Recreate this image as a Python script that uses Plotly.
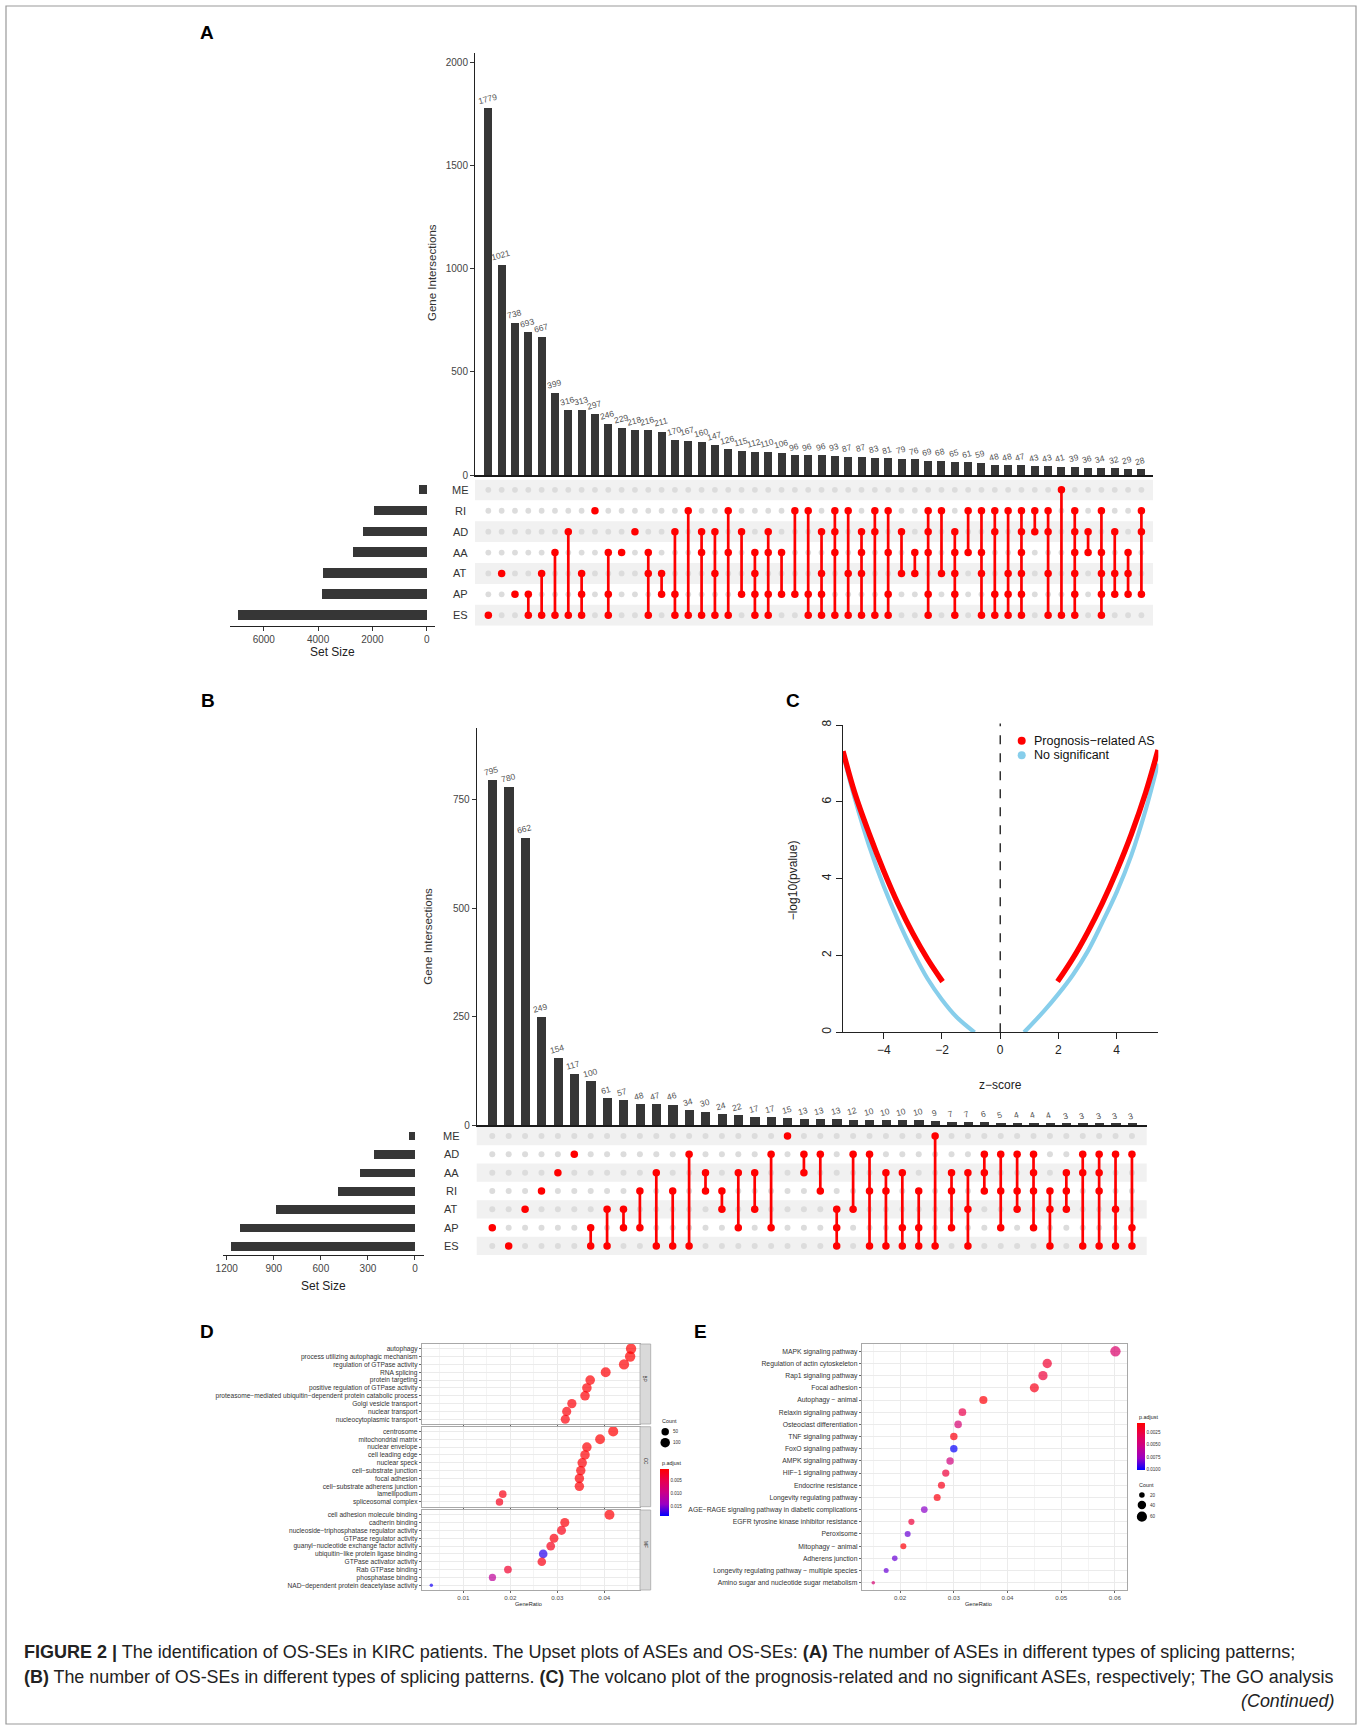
import plotly.graph_objects as go

W, H = 1362, 1727
def PX(x): return x / W
def PY(y): return 1 - y / H
def dom_x(a, b): return [PX(a), PX(b)]
def dom_y(top, bottom): return [PY(bottom), PY(top)]

FONT = "Liberation Sans, Arial, sans-serif"

# ---------------- Panel A data (ASEs upset) ----------------
a_counts = [1779, 1021, 738, 693, 667, 399, 316, 313, 297, 246, 229, 218, 216, 211, 170, 167, 160, 147, 126, 115,
            112, 110, 106, 96, 96, 96, 93, 87, 87, 83, 81, 79, 76, 69, 68, 65, 61, 59, 48, 48,
            47, 43, 43, 41, 39, 36, 34, 32, 29, 28]
a_members = [
    ["ES"], ["AT"], ["AP"], ["AP", "ES"], ["AT", "ES"], ["AA", "ES"], ["AD", "ES"], ["AT", "AP", "ES"], ["RI"], ["AA", "AP", "ES"],
    ["AA"], ["AD"], ["AA", "AT", "ES"], ["AT", "AP"], ["AD", "AP", "ES"], ["RI", "ES"], ["AD", "AA", "ES"], ["AD", "AT", "ES"], ["RI", "AA", "ES"], ["AD", "AP"],
    ["AA", "AT", "AP", "ES"], ["AD", "AA", "AP", "ES"], ["AA", "AP"], ["RI", "AP"], ["RI", "AP", "ES"], ["AD", "AT", "AP", "ES"], ["RI", "AD", "AA", "ES"], ["RI", "AT", "ES"], ["AD", "AA", "AT", "ES"], ["RI", "AD", "ES"],
    ["RI", "AA", "AP", "ES"], ["AD", "AT"], ["AA", "AT"], ["RI", "AD", "AA", "AP", "ES"], ["RI", "AT"], ["AD", "AA", "AT", "AP", "ES"], ["RI", "AA"], ["RI", "AA", "AT", "ES"], ["RI", "AD", "AP", "ES"], ["RI", "AT", "AP", "ES"],
    ["RI", "AD", "AA", "AT", "AP", "ES"], ["RI", "AD"], ["RI", "AD", "AT", "ES"], ["ME", "ES"], ["RI", "AD", "AA", "AT", "AP", "ES"], ["AD", "AA"], ["RI", "AA", "AT", "AP", "ES"], ["AD", "AT", "AP"], ["AA", "AT", "AP"], ["RI", "AD", "AP"],
]
a_rows = ["ME", "RI", "AD", "AA", "AT", "AP", "ES"]
a_set_sizes = [270, 1940, 2330, 2725, 3805, 3840, 6935]
a_size_ticks = [0, 2000, 4000, 6000]
a_bar_ticks = [0, 500, 1000, 1500, 2000]

# ---------------- Panel B data (OS-SEs upset) ----------------
b_counts = [795, 780, 662, 249, 154, 117, 100, 61, 57, 48, 47, 46, 34, 30, 24, 22, 17, 17, 15, 13,
            13, 13, 12, 10, 10, 10, 10, 9, 7, 7, 6, 5, 4, 4, 4, 3, 3, 3, 3, 3]
b_members = [
    ["AP"], ["ES"], ["AT"], ["RI"], ["AA"], ["AD"], ["AP", "ES"], ["AT", "ES"], ["AT", "AP"], ["RI", "AP"],
    ["AA", "ES"], ["RI", "ES"], ["AD", "ES"], ["AA", "RI"], ["RI", "AT"], ["AA", "AP"], ["AA", "AT"], ["AD", "AP"], ["ME"], ["AD", "AA"],
    ["AD", "RI"], ["AT", "AP", "ES"], ["AD", "AT"], ["AD", "RI", "ES"], ["AA", "RI", "ES"], ["AA", "AP", "ES"], ["RI", "AP", "ES"], ["ME", "ES"], ["AA", "RI", "AP"], ["AA", "AT", "ES"],
    ["AD", "AA", "RI"], ["AD", "RI", "AP"], ["AD", "RI", "AT"], ["AD", "AA", "RI", "AP"], ["RI", "AT", "ES"], ["AA", "RI", "AT"], ["AD", "AA", "ES"], ["AD", "AA", "RI", "ES"], ["AD", "AT", "ES"], ["AD", "AP", "ES"],
]
b_rows = ["ME", "AD", "AA", "RI", "AT", "AP", "ES"]
b_set_sizes = [36, 259, 346, 490, 886, 1113, 1172]
b_size_ticks = [0, 300, 600, 900, 1200]
b_bar_ticks = [0, 250, 500, 750]

# ---------------- Panel C data (volcano) ----------------
c_blue_left_z = [-5.40, -5.0, -4.5, -4.0, -3.5, -3.0, -2.5, -2.0, -1.5, -0.88]
c_blue_left_y = [7.25, 6.10, 4.85, 3.80, 2.90, 2.10, 1.40, 0.85, 0.40, 0.0]
c_blue_right_z = [0.82, 1.5, 2.0, 2.5, 3.0, 3.5, 4.0, 4.5, 5.0, 5.42]
c_blue_right_y = [0.0, 0.55, 1.0, 1.5, 2.1, 2.85, 3.65, 4.6, 5.8, 7.0]
c_red_left_z = [-5.40, -5.0, -4.5, -4.0, -3.5, -3.0, -2.5, -1.98]
c_red_left_y = [7.32, 6.24, 5.17, 4.20, 3.33, 2.57, 1.91, 1.32]
c_red_right_z = [1.97, 2.5, 3.0, 3.5, 4.0, 4.5, 5.0, 5.42]
c_red_right_y = [1.32, 1.93, 2.60, 3.35, 4.20, 5.15, 6.25, 7.35]
c_xticks = [-4, -2, 0, 2, 4]
c_xticktext = ["\u22124", "\u22122", "0", "2", "4"]
c_yticks = [0, 2, 4, 6, 8]
c_legend = ["Prognosis\u2212related AS", "No significant"]

# ---------------- Panel D data (GO dotplot) ----------------
d_bp_terms = ["autophagy", "process utilizing autophagic mechanism", "regulation of GTPase activity", "RNA splicing",
              "protein targeting", "positive regulation of GTPase activity",
              "proteasome\u2212mediated ubiquitin\u2212dependent protein catabolic process",
              "Golgi vesicle transport", "nuclear transport", "nucleocytoplasmic transport"]
d_bp_ratio = [0.0457, 0.0455, 0.0442, 0.0403, 0.0370, 0.0363, 0.0359, 0.0331, 0.0320, 0.0317]
d_bp_count = [130, 130, 126, 115, 105, 103, 102, 94, 91, 90]
d_bp_padj = [0.0010, 0.0010, 0.0011, 0.0012, 0.0012, 0.0013, 0.0013, 0.0015, 0.0015, 0.0016]

d_cc_terms = ["centrosome", "mitochondrial matrix", "nuclear envelope", "cell leading edge", "nuclear speck",
              "cell\u2212substrate junction", "focal adhesion", "cell\u2212substrate adherens junction",
              "lamellipodium", "spliceosomal complex"]
d_cc_ratio = [0.0419, 0.0391, 0.0363, 0.0359, 0.0353, 0.0350, 0.0347, 0.0347, 0.0184, 0.0177]
d_cc_count = [119, 111, 103, 102, 100, 99, 99, 99, 52, 50]
d_cc_padj = [0.0010, 0.0011, 0.0012, 0.0012, 0.0013, 0.0013, 0.0013, 0.0013, 0.0020, 0.0025]

d_mf_terms = ["cell adhesion molecule binding", "cadherin binding", "nucleoside\u2212triphosphatase regulator activity",
              "GTPase regulator activity", "guanyl\u2212nucleotide exchange factor activity",
              "ubiquitin\u2212like protein ligase binding", "GTPase activator activity", "Rab GTPase binding",
              "phosphatase binding", "NAD\u2212dependent protein deacetylase activity"]
d_mf_ratio = [0.0411, 0.0316, 0.0309, 0.0293, 0.0286, 0.0270, 0.0267, 0.0195, 0.0162, 0.0032]
d_mf_count = [117, 90, 88, 83, 81, 77, 76, 56, 46, 9]
d_mf_padj = [0.0012, 0.0015, 0.0022, 0.0018, 0.0025, 0.0175, 0.0020, 0.0035, 0.0110, 0.0180]
d_facets = ["BP", "CC", "MF"]
d_xticks = [0.01, 0.02, 0.03, 0.04]
d_count_legend = [50, 100]
d_padj_ticks = [0.005, 0.010, 0.015]

# ---------------- Panel E data (KEGG dotplot) ----------------
e_terms = ["MAPK signaling pathway", "Regulation of actin cytoskeleton", "Rap1 signaling pathway", "Focal adhesion",
           "Autophagy \u2212 animal", "Relaxin signaling pathway", "Osteoclast differentiation", "TNF signaling pathway",
           "FoxO signaling pathway", "AMPK signaling pathway", "HIF\u22121 signaling pathway", "Endocrine resistance",
           "Longevity regulating pathway", "AGE\u2212RAGE signaling pathway in diabetic complications",
           "EGFR tyrosine kinase inhibitor resistance", "Peroxisome", "Mitophagy \u2212 animal", "Adherens junction",
           "Longevity regulating pathway \u2212 multiple species", "Amino sugar and nucleotide sugar metabolism"]
e_ratio = [0.0601, 0.0474, 0.0466, 0.0450, 0.0355, 0.0316, 0.0308, 0.0300, 0.0300, 0.0293,
           0.0285, 0.0277, 0.0269, 0.0245, 0.0221, 0.0214, 0.0206, 0.0190, 0.0174, 0.0150]
e_count = [63, 50, 49, 47, 37, 33, 32, 31, 31, 31, 30, 29, 28, 26, 23, 22, 22, 20, 18, 16]
e_padj = [0.0042, 0.0022, 0.0025, 0.0015, 0.0010, 0.0030, 0.0045, 0.0012, 0.0100, 0.0050,
          0.0025, 0.0015, 0.0012, 0.0080, 0.0025, 0.0085, 0.0010, 0.0085, 0.0085, 0.0045]
e_xticks = [0.02, 0.03, 0.04, 0.05, 0.06]
e_count_legend = [20, 40, 60]
e_padj_ticks = [0.0025, 0.0050, 0.0075, 0.0100]

# ---------------- styling ----------------
RED = "#FF0000"
BAR = "#363636"
GRAYDOT = "#DCDCDC"
STRIPE = "#F1F1F1"
TXT = "#444444"
PADJ_SCALE = [[0, "rgb(0,0,255)"], [0.25, "rgb(154,0,195)"], [0.5, "rgb(202,0,137)"],
              [0.75, "rgb(232,0,79)"], [1, "rgb(255,0,0)"]]

traces = []
annotations = []
shapes = []


def upset(counts, members, rows, sizes, ax_bar, ax_m, ax_s, bar_w, hbar_w, label_x, red_d, gray_d):
    n = len(rows)
    ridx = {r: n - 1 - i for i, r in enumerate(rows)}
    cols = list(range(len(counts)))
    xb, yb = "x" + ax_bar, "y" + ax_bar
    xm, ym = "x" + ax_m, "y" + ax_m
    xs, ys_ = "x" + ax_s, "y" + ax_s
    traces.append(go.Bar(x=cols, y=counts, width=bar_w, marker=dict(color=BAR, line=dict(width=0)),
                         xaxis=xb, yaxis=yb, hoverinfo="x+y"))
    for c, v in zip(cols, counts):
        annotations.append(dict(x=c, y=v, xref=xb, yref=yb, text=str(v), showarrow=False, textangle=-15,
                                xanchor="center", yanchor="bottom", yshift=0, xshift=-1,
                                font=dict(size=8.5, color="#555555", family=FONT)))
    # stripes
    for r in rows:
        if (n - 1 - ridx[r]) % 2 == 0:
            shapes.append(dict(type="rect", xref=xm + " domain", yref=ym, x0=0, x1=1,
                               y0=ridx[r] - 0.5, y1=ridx[r] + 0.5, fillcolor=STRIPE, line=dict(width=0),
                               layer="below"))
    gx, gy, rx, ry, lx, ly = [], [], [], [], [], []
    for c in cols:
        mem = [ridx[r] for r in members[c]]
        for r in rows:
            if r in members[c]:
                rx.append(c); ry.append(ridx[r])
            else:
                gx.append(c); gy.append(ridx[r])
        if len(mem) > 1:
            lx += [c, c, None]; ly += [min(mem), max(mem), None]
    traces.append(go.Scatter(x=gx, y=gy, mode="markers", marker=dict(size=gray_d, color=GRAYDOT),
                             xaxis=xm, yaxis=ym, hoverinfo="skip"))
    traces.append(go.Scatter(x=lx, y=ly, mode="lines", line=dict(color=RED, width=2.7),
                             xaxis=xm, yaxis=ym, hoverinfo="skip"))
    traces.append(go.Scatter(x=rx, y=ry, mode="markers", marker=dict(size=red_d, color=RED),
                             xaxis=xm, yaxis=ym, hoverinfo="skip"))
    traces.append(go.Bar(x=sizes, y=[ridx[r] for r in rows], orientation="h", width=hbar_w,
                         marker=dict(color=BAR, line=dict(width=0)), xaxis=xs, yaxis=ys_))
    for r in rows:
        annotations.append(dict(x=PX(label_x), y=ridx[r], xref="paper", yref=ym, text=r, showarrow=False,
                                xanchor="center", yanchor="middle", font=dict(size=11, color="#333333", family=FONT)))


upset(a_counts, a_members, a_rows, a_set_sizes, "", "2", "3", 0.6, 0.45, 460, 7.5, 5.8)
upset(b_counts, b_members, b_rows, b_set_sizes, "4", "5", "6", 0.57, 0.47, 451, 7.5, 6.0)

# ---------------- Panel C traces ----------------
for zz, yy, col, wd in [(c_blue_left_z, c_blue_left_y, "#87CEEB", 4.2), (c_blue_right_z, c_blue_right_y, "#87CEEB", 4.2),
                        (c_red_left_z, c_red_left_y, RED, 5.4), (c_red_right_z, c_red_right_y, RED, 5.4)]:
    traces.append(go.Scatter(x=zz, y=yy, mode="lines", line=dict(color=col, width=wd, shape="spline", smoothing=1.0),
                             xaxis="x7", yaxis="y7"))
shapes.append(dict(type="line", xref="x7", yref="y7 domain", x0=0, x1=0, y0=0, y1=1.005,
                   line=dict(color="black", width=1.2, dash="dash")))
for i, (lab, col) in enumerate(zip(c_legend, [RED, "#87CEEB"])):
    yc = 740.7 + 14.6 * i
    shapes.append(dict(type="circle", xref="paper", yref="paper", xsizemode="pixel", ysizemode="pixel",
                       xanchor=PX(1021.7), yanchor=PY(yc), x0=-4, x1=4, y0=-4, y1=4,
                       fillcolor=col, line=dict(width=0)))
    annotations.append(dict(x=PX(1032), y=PY(yc), xref="paper", yref="paper", text=lab, showarrow=False,
                            xanchor="left", yanchor="middle", font=dict(size=12.5, color="#111111", family=FONT)))


# ---------------- Panel D / E traces ----------------
def dot_size(counts, dmin, dmax, cmin, cmax):
    return [dmin + (dmax - dmin) * max(0.0, (c - cmin) / (cmax - cmin)) ** 0.5 for c in counts]

d_all_counts = d_bp_count + d_cc_count + d_mf_count
d_cmin, d_cmax = min(d_all_counts), max(d_all_counts)
for k, (terms, ratio, cnt, padj) in enumerate([(d_bp_terms, d_bp_ratio, d_bp_count, d_bp_padj),
                                                 (d_cc_terms, d_cc_ratio, d_cc_count, d_cc_padj),
                                                 (d_mf_terms, d_mf_ratio, d_mf_count, d_mf_padj)]):
    ax = str(8 + k)
    traces.append(go.Scatter(x=ratio, y=terms, mode="markers",
                             marker=dict(size=dot_size(cnt, 3.4, 10.4, d_cmin, d_cmax),
                                         color=[-p for p in padj], coloraxis="coloraxis", line=dict(width=0)),
                             xaxis="x" + ax, yaxis="y" + ax))

e_cmin, e_cmax = min(e_count), max(e_count)
traces.append(go.Scatter(x=e_ratio, y=e_terms, mode="markers",
                         marker=dict(size=dot_size(e_count, 3.6, 10.4, e_cmin, e_cmax),
                                     color=[-p for p in e_padj], coloraxis="coloraxis2", line=dict(width=0)),
                         xaxis="x11", yaxis="y11"))

# ---------------- axes ----------------
layout = dict(width=W, height=H, margin=dict(l=0, r=0, t=0, b=0), template="none",
              paper_bgcolor="white", plot_bgcolor="rgba(0,0,0,0)", showlegend=False,
              font=dict(family=FONT, color=TXT))

hidden = dict(visible=False, showgrid=False, zeroline=False, fixedrange=True)


def bar_y(domain, rng, ticks, anchor):
    return dict(domain=domain, range=rng, anchor=anchor, showline=True, linecolor="#222222", linewidth=1,
                ticks="outside", ticklen=4, tickcolor="#333333", tickvals=ticks, showgrid=False, zeroline=False,
                tickfont=dict(size=10, color=TXT, family=FONT))


def bar_x(domain, rng, anchor):
    return dict(domain=domain, range=rng, anchor=anchor, showline=True, linecolor="#1a1a1a", linewidth=1.5,
                showticklabels=False, ticks="", showgrid=False, zeroline=False)


def size_x(domain, rng, ticks, anchor):
    return dict(domain=domain, range=rng, anchor=anchor, showline=True, linecolor="#222222", linewidth=1.2,
                ticks="outside", ticklen=4, tickcolor="#333333", tickvals=ticks, showgrid=False, zeroline=False,
                tickfont=dict(size=10, color=TXT, family=FONT))


# A
layout["xaxis"] = bar_x(dom_x(475, 1153), [-1.0, 49.87], "y")
layout["yaxis"] = bar_y(dom_y(53, 475), [0, 2047], a_bar_ticks, "x")
layout["xaxis2"] = dict(hidden, domain=dom_x(475, 1153), range=[-1.0, 49.87], anchor="y2")
layout["yaxis2"] = dict(hidden, domain=dom_y(479.4, 625.7), range=[-0.5, 6.5], anchor="x2")
layout["xaxis3"] = size_x(dom_x(230, 435), [7245, -306], a_size_ticks, "y3")
layout["yaxis3"] = dict(hidden, domain=dom_y(479.4, 625.7), range=[-0.5, 6.5], anchor="x3")
# B
layout["xaxis4"] = bar_x(dom_x(476.7, 1146.7), [-0.95, 39.9], "y4")
layout["yaxis4"] = bar_y(dom_y(728.3, 1125), [0, 915], b_bar_ticks, "x4")
layout["xaxis5"] = dict(hidden, domain=dom_x(476.7, 1146.7), range=[-0.95, 39.9], anchor="y5")
layout["yaxis5"] = dict(hidden, domain=dom_y(1126.8, 1255.2), range=[-0.5, 6.5], anchor="x5")
layout["xaxis6"] = size_x(dom_x(223.3, 424), [1221.7, -57.4], b_size_ticks, "y6")
layout["yaxis6"] = dict(hidden, domain=dom_y(1126.8, 1255.2), range=[-0.5, 6.5], anchor="x6")
# C
layout["xaxis7"] = dict(domain=dom_x(842.7, 1158.3), range=[-5.41, 5.43], anchor="y7", showline=True,
                        linecolor="#222222", linewidth=1, ticks="outside", ticklen=6, tickcolor="#222222",
                        tickvals=c_xticks, ticktext=c_xticktext, showgrid=False, zeroline=False,
                        tickfont=dict(size=12, color="#222222", family=FONT))
layout["yaxis7"] = dict(domain=dom_y(725, 1032.3), range=[0, 8], anchor="x7", showline=True,
                        linecolor="#222222", linewidth=1, ticks="outside", ticklen=6, tickcolor="#222222",
                        tickvals=c_yticks, tickangle=-90, showgrid=False, zeroline=False,
                        tickfont=dict(size=12, color="#222222", family=FONT))


def dot_axes(xkey, ykey, xdom, ydom, xrng, terms, xticks, show_xlabels, yfs):
    n = len(terms)
    layout[xkey] = dict(domain=xdom, range=xrng, anchor="y" + xkey[5:], showline=True, mirror=True,
                        linecolor="#A8A8A8", linewidth=0.8, ticks="outside", ticklen=2, tickcolor="#666666",
                        tickvals=xticks, tickformat=".2f", showticklabels=show_xlabels,
                        showgrid=True, gridcolor="#EBEBEB", gridwidth=0.8, zeroline=False,
                        minor=dict(dtick=0.005, tick0=0, showgrid=True, gridcolor="#F4F4F4", gridwidth=0.5, ticks=""),
                        tickfont=dict(size=6.2, color="#4D4D4D", family=FONT))
    layout[ykey] = dict(domain=ydom, range=[n - 1 + 0.6, -0.6], anchor="x" + ykey[5:], type="category",
                        categoryorder="array", categoryarray=terms, tickmode="array", tickvals=terms,
                        ticktext=terms, showline=True, mirror=True,
                        linecolor="#A8A8A8", linewidth=0.8, ticks="outside", ticklen=2, tickcolor="#666666",
                        showgrid=True, gridcolor="#EBEBEB", gridwidth=0.8, zeroline=False,
                        tickfont=dict(size=yfs, color="#333333", family=FONT))


d_xrng = [0.00115, 0.0476]
dot_axes("xaxis8", "yaxis8", dom_x(421.7, 640), dom_y(1344, 1424), d_xrng, d_bp_terms, d_xticks, False, 6.6)
dot_axes("xaxis9", "yaxis9", dom_x(421.7, 640), dom_y(1426.7, 1506.7), d_xrng, d_cc_terms, d_xticks, False, 6.6)
dot_axes("xaxis10", "yaxis10", dom_x(421.7, 640), dom_y(1510, 1590), d_xrng, d_mf_terms, d_xticks, True, 6.6)
dot_axes("xaxis11", "yaxis11", dom_x(861.7, 1126.7), dom_y(1344, 1590), [0.01284, 0.0622], e_terms, e_xticks, True, 6.8)

layout["coloraxis"] = dict(colorscale=PADJ_SCALE, cmin=-0.0186, cmax=-0.001,
                           colorbar=dict(x=PX(660), xanchor="left", y=PY(1469.3), yanchor="top",
                                         len=47.4, lenmode="pixels", thickness=9.3, xpad=0, ypad=0,
                                         outlinewidth=0, ticks="", tickvals=[-v for v in d_padj_ticks],
                                         ticktext=["%.3f" % v for v in d_padj_ticks],
                                         tickfont=dict(size=4.6, color="#333333", family=FONT)))
layout["coloraxis2"] = dict(colorscale=PADJ_SCALE, cmin=-0.0101, cmax=-0.0008,
                            colorbar=dict(x=PX(1136.7), xanchor="left", y=PY(1423.3), yanchor="top",
                                          len=46.7, lenmode="pixels", thickness=8.3, xpad=0, ypad=0,
                                          outlinewidth=0, ticks="", tickvals=[-v for v in e_padj_ticks],
                                          ticktext=["%.4f" % v for v in e_padj_ticks],
                                          tickfont=dict(size=4.6, color="#333333", family=FONT)))

# facet strips for D
for lab, (t, b) in zip(d_facets, [(1344, 1424), (1426.7, 1506.7), (1510, 1590)]):
    shapes.append(dict(type="rect", xref="paper", yref="paper", x0=PX(640), x1=PX(650.7), y0=PY(b), y1=PY(t),
                       fillcolor="#D9D9D9", line=dict(color="#A8A8A8", width=0.8)))
    annotations.append(dict(x=PX(645.4), y=PY((t + b) / 2), xref="paper", yref="paper", text=lab, textangle=90,
                            showarrow=False, font=dict(size=4.6, color="#1A1A1A", family=FONT)))

# count legends (size keys)
def count_legend(title, x0, ytitle, vals, ys, dmin, dmax, cmin, cmax, xlab):
    annotations.append(dict(x=PX(x0), y=PY(ytitle), xref="paper", yref="paper", text=title, showarrow=False,
                            xanchor="left", yanchor="middle", font=dict(size=5.4, color="#222222", family=FONT)))
    for v, yy, d in zip(vals, ys, dot_size(vals, dmin, dmax, cmin, cmax)):
        shapes.append(dict(type="circle", xref="paper", yref="paper", xsizemode="pixel", ysizemode="pixel",
                           xanchor=PX(x0 + 5.2), yanchor=PY(yy), x0=-d / 2, x1=d / 2, y0=-d / 2, y1=d / 2,
                           fillcolor="black", line=dict(width=0)))
        annotations.append(dict(x=PX(xlab), y=PY(yy), xref="paper", yref="paper", text=str(v), showarrow=False,
                                xanchor="left", yanchor="middle", font=dict(size=4.6, color="#333333", family=FONT)))

count_legend("Count", 660, 1421, d_count_legend, [1431.7, 1442.7], 3.4, 10.4, d_cmin, d_cmax, 671)
count_legend("Count", 1136.7, 1485.3, e_count_legend, [1495, 1505, 1516.7], 3.6, 10.4, e_cmin, e_cmax, 1148)
for x0, y0 in [(660, 1463.3), (1136.7, 1416.7)]:
    annotations.append(dict(x=PX(x0), y=PY(y0), xref="paper", yref="paper", text="p.adjust", showarrow=False,
                            xanchor="left", yanchor="middle", font=dict(size=5.4, color="#222222", family=FONT)))

# axis titles
def txt(x, y, s, size, angle=0, color="#222222", bold=False, xanchor="center"):
    annotations.append(dict(x=PX(x), y=PY(y), xref="paper", yref="paper", text=("<b>%s</b>" % s) if bold else s,
                            showarrow=False, textangle=angle, xanchor=xanchor, yanchor="middle",
                            font=dict(size=size, color=color, family=FONT)))

txt(432, 273, "Gene Intersections", 11.5, -90, "#333333")
txt(332.7, 651.7, "Set Size", 12, 0, "#222222")
txt(428, 936.7, "Gene Intersections", 11.5, -90, "#333333")
txt(323.3, 1285.7, "Set Size", 12, 0, "#222222")
txt(1000, 1085, "z\u2212score", 12, 0, "#222222")
txt(793.3, 880, "\u2212log10(pvalue)", 12, -90, "#222222")
txt(528, 1604, "GeneRatio", 5.6, 0, "#222222")
txt(978, 1604, "GeneRatio", 5.6, 0, "#222222")

# panel letters
for lab, x, y in [("A", 207, 33), ("B", 208, 700), ("C", 793, 700), ("D", 207, 1331), ("E", 700, 1331)]:
    txt(x, y, lab, 19, 0, "#000000", bold=True)

# caption
CAP = "Liberation Sans, Arial, sans-serif"
cap1 = ("<b>FIGURE 2 |</b> The identification of OS-SEs in KIRC patients. The Upset plots of ASEs and OS-SEs: "
        "<b>(A)</b> The number of ASEs in different types of splicing patterns;")
cap2 = ("<b>(B)</b> The number of OS-SEs in different types of splicing patterns. <b>(C)</b> The volcano plot of the "
        "prognosis-related and no significant ASEs, respectively; The GO analysis")
annotations.append(dict(x=PX(22), y=PY(1652), xref="paper", yref="paper", text=cap1, showarrow=False,
                        xanchor="left", yanchor="middle", font=dict(size=18.0, color="#222222", family=CAP)))
annotations.append(dict(x=PX(22), y=PY(1677), xref="paper", yref="paper", text=cap2, showarrow=False,
                        xanchor="left", yanchor="middle", font=dict(size=17.9, color="#222222", family=CAP)))
annotations.append(dict(x=PX(1336), y=PY(1701), xref="paper", yref="paper", text="<i>(Continued)</i>",
                        showarrow=False, xanchor="right", yanchor="middle",
                        font=dict(size=17.9, color="#222222", family=CAP)))

# frame
shapes.append(dict(type="rect", xref="paper", yref="paper", x0=PX(6), x1=PX(1356), y0=PY(1724), y1=PY(6),
                   line=dict(color="#999999", width=1.2), fillcolor="rgba(0,0,0,0)"))

layout["annotations"] = annotations
layout["shapes"] = shapes
layout["bargap"] = 0

fig = go.Figure(data=traces, layout=layout)
fig.write_html("out.html")
